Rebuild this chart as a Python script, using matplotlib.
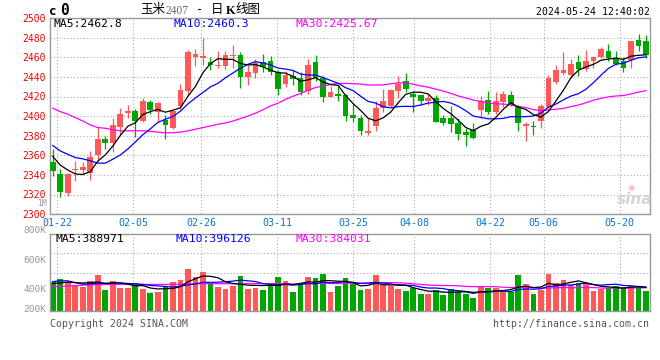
import matplotlib
matplotlib.use('Agg')
import matplotlib.pyplot as plt
import numpy as np
import pandas as pd

# ---------------- data ----------------
opens = [2353, 2341, 2322, 2345, 2345, 2342, 2360, 2377, 2373, 2389,
         2403, 2405, 2395, 2414, 2404, 2396, 2388, 2410, 2426, 2460,
         2459, 2455, 2451, 2451, 2461, 2462, 2440, 2444, 2455, 2456,
         2445, 2433, 2441, 2439, 2426, 2455, 2439, 2420, 2423, 2422,
         2401, 2398, 2383, 2390, 2408, 2410, 2426, 2436, 2423, 2422,
         2415, 2418, 2398, 2398, 2393, 2384, 2386, 2406, 2416, 2404,
         2414, 2422, 2410, 2390, 2390, 2395, 2409, 2435, 2444, 2442,
         2455, 2448, 2456, 2460, 2466, 2459, 2456, 2457, 2478, 2477]
closes = [2344, 2323, 2341, 2346, 2348, 2358, 2377, 2373, 2391, 2402,
          2405, 2395, 2415, 2406, 2413, 2391, 2405, 2427, 2465, 2463,
          2461, 2452, 2452, 2462, 2462, 2440, 2445, 2454, 2450, 2445,
          2428, 2442, 2438, 2425, 2452, 2439, 2420, 2425, 2421, 2400,
          2398, 2385, 2385, 2408, 2415, 2427, 2433, 2428, 2419, 2415,
          2418, 2394, 2393, 2392, 2382, 2381, 2378, 2415, 2404, 2415,
          2423, 2411, 2393, 2392, 2389, 2410, 2439, 2447, 2447, 2453,
          2448, 2456, 2460, 2468, 2459, 2453, 2449, 2477, 2472, 2462]
highs = [2366, 2346, 2342, 2354, 2353, 2364, 2389, 2380, 2398, 2408,
         2411, 2407, 2418, 2416, 2414, 2401, 2406, 2433, 2467, 2468,
         2480, 2460, 2466, 2466, 2473, 2465, 2452, 2458, 2463, 2461,
         2447, 2446, 2447, 2445, 2458, 2462, 2441, 2431, 2431, 2423,
         2412, 2401, 2398, 2415, 2428, 2428, 2441, 2444, 2426, 2422,
         2423, 2422, 2401, 2410, 2398, 2388, 2393, 2421, 2426, 2425,
         2426, 2426, 2411, 2394, 2395, 2412, 2442, 2452, 2465, 2458,
         2462, 2467, 2461, 2471, 2474, 2466, 2460, 2477, 2484, 2483]
lows = [2339, 2317, 2318, 2334, 2341, 2335, 2354, 2366, 2363, 2381,
        2398, 2379, 2394, 2402, 2394, 2377, 2387, 2407, 2422, 2451,
        2452, 2447, 2449, 2448, 2449, 2429, 2432, 2439, 2445, 2442,
        2422, 2430, 2432, 2422, 2423, 2436, 2414, 2420, 2415, 2395,
        2394, 2381, 2381, 2385, 2404, 2409, 2418, 2425, 2404, 2411,
        2411, 2394, 2391, 2384, 2376, 2370, 2377, 2398, 2402, 2402,
        2409, 2410, 2385, 2375, 2381, 2388, 2408, 2433, 2442, 2439,
        2441, 2446, 2449, 2459, 2456, 2452, 2445, 2449, 2466, 2459]
volumes_k = [422, 444, 427, 404, 391, 431, 471, 371, 431, 387,
             387, 418, 378, 351, 355, 398, 424, 438, 511, 458,
             491, 411, 393, 378, 398, 467, 378, 387, 371, 411,
             458, 431, 358, 418, 458, 453, 477, 360, 398, 453,
             409, 371, 378, 471, 404, 398, 378, 364, 387, 344,
             344, 373, 338, 378, 360, 347, 320, 391, 382, 387,
             355, 355, 471, 411, 344, 373, 477, 420, 438, 404,
             418, 415, 364, 378, 382, 398, 393, 398, 391, 364]

# moving-average values before enough candles are on screen
ma5_head = [2359, 2350, 2345, 2341]
ma10_head = [2370, 2364.5, 2361, 2357.7, 2356.4, 2354.4, 2352, 2352, 2356]
ma30_head = [2408, 2404.6, 2402, 2398.5, 2395, 2391, 2388.3, 2387.6, 2386, 2385,
             2385, 2385, 2385, 2384.6, 2383.6, 2383, 2383, 2383.6, 2385, 2386.6,
             2388.3, 2390, 2391.7, 2393, 2395, 2397.5, 2400, 2403, 2406.5]
vma5_head = [414, 418, 424, 420]
vma10_head = [427, 432, 432, 420, 410, 412, 415, 416, 416]
vma30_head = [393, 395, 398, 400, 403, 405, 407, 408, 408, 409,
              409, 409, 409, 408, 408, 408, 409, 410, 411, 412,
              413, 413, 413, 413, 413, 413, 413, 413, 413]

date_idx = [1, 11, 20, 30, 40, 48, 58, 65, 75]
date_labels = ['01-22', '02-05', '02-26', '03-11', '03-25', '04-08', '04-22', '05-06', '05-20']
price_ticks = [2300, 2320, 2340, 2360, 2380, 2400, 2420, 2440, 2460, 2480, 2500]
vol_labels = ['1M', '800K', '600K', '400K', '200K']

ma_price_text = ['MA5:2462.8', 'MA10:2460.3', 'MA30:2425.67']
ma_vol_text = ['MA5:388971', 'MA10:396126', 'MA30:384031']

# ---------------- helpers ----------------
def rolling_with_head(vals, n, head):
    s = pd.Series(vals, dtype=float).rolling(n).mean().to_numpy()
    s[:len(head)] = head
    return s

ma5 = rolling_with_head(closes, 5, ma5_head)
ma10 = rolling_with_head(closes, 10, ma10_head)
ma30 = rolling_with_head(closes, 30, ma30_head)
vma5 = rolling_with_head(volumes_k, 5, vma5_head)
vma10 = rolling_with_head(volumes_k, 10, vma10_head)
vma30 = rolling_with_head(volumes_k, 30, vma30_head)

RED = '#ff5858'
GREEN = '#00a600'
GRID = '#aaaaaa'
SPINE = '#999999'
MONO = 'DejaVu Sans Mono'
CJK = ['Noto Sans CJK SC', 'DejaVu Sans']

W, H = 660, 360
fig = plt.figure(figsize=(6.6, 3.6), dpi=100)
def fx(px): return px / W
def fy(py): return 1 - py / H

x = np.arange(len(closes))
up = np.array(closes) >= np.array(opens)
colors = np.where(up, RED, GREEN)
XLIM = (-0.36, 79.53)
GRID_XLIM = (0.08, 79.0)
dots = (0, (1, 2))

def setup_grid_twin(a, show_labels):
    g = a.twiny()
    g.set_zorder(a.get_zorder() - 1)
    a.patch.set_visible(False)
    g.set_xlim(*GRID_XLIM)
    g.set_xticks(date_idx)
    g.xaxis.set_ticks_position('bottom')
    if show_labels:
        g.set_xticklabels(date_labels, fontfamily=MONO, fontsize=7.2, color='#0a74cc')
    else:
        g.set_xticklabels([])
    g.tick_params(axis='x', length=0, pad=2.5)
    g.grid(True, axis='x', color=GRID, linestyle=dots, linewidth=0.8)
    for sp in g.spines.values():
        sp.set_visible(False)
    return g

# ---------------- main price panel ----------------
ax = fig.add_axes([fx(50), fy(214.1), fx(600), 196 / H])
ax.set_xlim(*XLIM)
ax.set_ylim(2300, 2500)
setup_grid_twin(ax, True)
ax.set_xticks([])
ax.set_yticks(price_ticks)
ax.set_yticklabels([str(t) for t in price_ticks], fontfamily=MONO, fontsize=7, color='#ee0000')
ax.tick_params(axis='y', length=0, pad=3)
for t in price_ticks[1:-1]:
    ax.axhline(t, color=GRID, linestyle=dots, linewidth=0.8, zorder=0)
for sp in ax.spines.values():
    sp.set_color(SPINE)
    sp.set_linewidth(1)

o = np.array(opens, float); c = np.array(closes, float)
body_low = np.minimum(o, c)
body_h = np.maximum(np.abs(c - o), 0.9)
ax.vlines(x, lows, highs, colors=colors, linewidth=0.9, zorder=2)
ax.bar(x, body_h, bottom=body_low, width=0.76, color=colors, linewidth=0, zorder=3)
ax.plot(x, ma30, color='#ff00ff', linewidth=0.9, zorder=4)
ax.plot(x, ma10, color='#0000ff', linewidth=0.9, zorder=4)
ax.plot(x, ma5, color='#000000', linewidth=0.9, zorder=4)

# ---------------- volume panel ----------------
axv = fig.add_axes([fx(50), fy(311), fx(600), 76.7 / H])
axv.set_xlim(*XLIM)
axv.set_ylim(231, 742)
setup_grid_twin(axv, False)
axv.set_xticks([])
axv.set_yticks([])
for f in (0.25, 0.5, 0.75):
    axv.plot([0, 1], [f, f], transform=axv.transAxes, color=GRID, linestyle=dots,
             linewidth=0.8, zorder=0)
for sp in axv.spines.values():
    sp.set_color(SPINE)
    sp.set_linewidth(1)
axv.bar(x, volumes_k, width=0.76, color=colors, linewidth=0, zorder=2)
axv.plot(x, vma30, color='#ff00ff', linewidth=0.9, zorder=4)
axv.plot(x, vma10, color='#0000ff', linewidth=0.9, zorder=4)
axv.plot(x, vma5, color='#000000', linewidth=0.9, zorder=4)

# volume axis labels (Sina draws them at fixed offsets)
for lab, py, fs in zip(vol_labels, [204.0, 230.7, 260.7, 290.0, 309.0], [5.8, 6.8, 6.8, 6.8, 6.8]):
    fig.text(fx(46.5), fy(py), lab, ha='right', va='center', fontfamily=MONO,
             fontsize=fs, color='#999999')

# ---------------- texts ----------------
lx = [54, 174, 295]
lc = ['#000000', '#0000ff', '#ff00ff']
for t, px, col in zip(ma_price_text, lx, lc):
    fig.text(fx(px), fy(24), t, ha='left', va='center', fontfamily=MONO, fontsize=8.2, color=col)
for t, px, col in zip(ma_vol_text, [55, 175, 295], lc):
    fig.text(fx(px), fy(239.5), t, ha='left', va='center', fontfamily=MONO, fontsize=8.2, color=col)

fig.text(fx(48.5), fy(11.5), 'c', ha='left', va='center', fontfamily=MONO,
         fontsize=9, fontweight='bold', color='#000000')
fig.text(fx(60), fy(10.5), '0', ha='left', va='center', fontfamily=MONO,
         fontsize=10.5, fontweight='bold', color='#000000')

fig.text(fx(140), fy(10), '玉米', ha='left', va='center', fontfamily=CJK, fontsize=9, color='#000000')
fig.text(fx(165), fy(11), '2407', ha='left', va='center', fontfamily='Liberation Serif',
         fontsize=8.3, color='#666666')
fig.text(fx(196), fy(10), '-', ha='left', va='center', fontfamily=MONO, fontsize=8.5, color='#000000')
fig.text(fx(211), fy(10), '日', ha='left', va='center', fontfamily=CJK, fontsize=9, color='#000000')
fig.text(fx(225.5), fy(10.5), 'K', ha='left', va='center', fontfamily='Liberation Serif', fontsize=9,
         fontweight='bold', color='#000000')
fig.text(fx(235), fy(10), '线图', ha='left', va='center', fontfamily=CJK, fontsize=9, color='#000000')

fig.text(fx(649.5), fy(11.7), '2024-05-24 12:40:02', ha='right', va='center', fontfamily=MONO,
         fontsize=7.1, color='#000000')

fig.text(fx(50), fy(324), 'Copyright 2024 SINA.COM', ha='left', va='center', fontfamily=MONO,
         fontsize=7.1, color='#555555')
fig.text(fx(649.5), fy(324), 'http://finance.sina.com.cn', ha='right', va='center', fontfamily=MONO,
         fontsize=7.1, color='#555555')

# sina watermark
fig.text(fx(635), fy(200), 'sina', ha='center', va='center', fontfamily='DejaVu Sans',
         fontsize=11, fontweight='bold', fontstyle='italic', color='#d4d4d4')
fig.text(fx(631), fy(187), '◉', ha='center', va='center', fontfamily='DejaVu Sans',
         fontsize=6, color='#f2b8b8')

fig.savefig('out.png', dpi=100)
